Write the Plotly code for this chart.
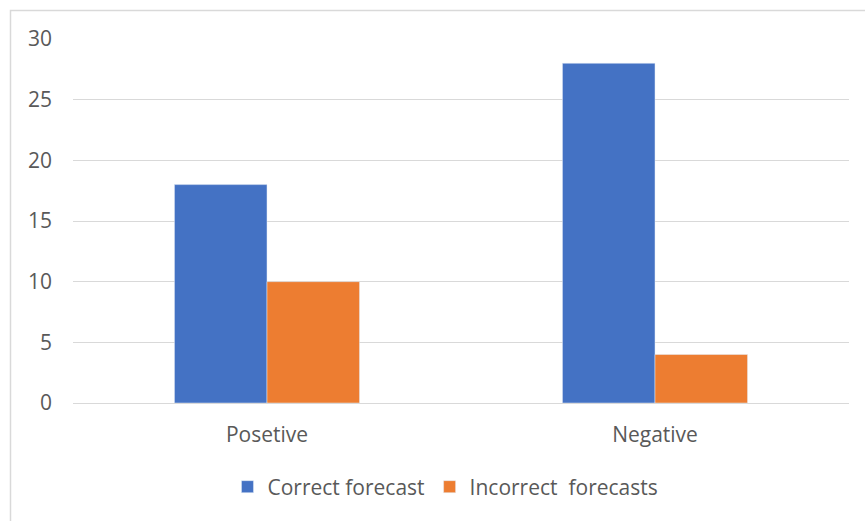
import plotly.graph_objects as go

categories = ["Posetive", "Negative"]
correct = [18, 28]
incorrect = [10, 4]
y_ticks = [0, 5, 10, 15, 20, 25, 30]

W, H = 865, 521
ml, mr, mt, mb = 73, 16, 39, 118
pw, ph = W - ml - mr, H - mt - mb

font = "Open Sans"
txt = "#595959"
fs = 21

fig = go.Figure()
fig.add_trace(go.Bar(name="Correct forecast", x=categories, y=correct, marker_color="#4472C4"))
fig.add_trace(go.Bar(name="Incorrect  forecasts", x=categories, y=incorrect, marker_color="#ED7D31"))

def px2x(p):
    return (p - ml) / pw
def py2y(p):
    return 1 - (p - mt) / ph

fig.add_shape(type="rect", xref="paper", yref="paper",
              x0=px2x(10.5), x1=px2x(870), y0=py2y(10.5), y1=py2y(530),
              line=dict(color="#D9D9D9", width=1.5), layer="below")

fig.update_layout(
    width=W, height=H,
    margin=dict(l=ml, r=mr, t=mt, b=mb, pad=0),
    paper_bgcolor="white", plot_bgcolor="white",
    barmode="group", bargap=0.523, bargroupgap=0,
    font=dict(family=font, size=fs, color=txt),
    legend=dict(orientation="h", x=0.48, xanchor="center", y=py2y(487), yanchor="middle",
                font=dict(size=fs, color=txt), itemwidth=30, traceorder="normal"),
    showlegend=True,
)
fig.update_yaxes(range=[0, 30], tickvals=y_ticks, showgrid=True, gridcolor="#D9D9D9", gridwidth=1,
                 zeroline=False, showline=False, ticks="", ticklabelstandoff=20,
                 tickfont=dict(size=fs, color=txt))
fig.update_xaxes(showline=True, linecolor="#D9D9D9", linewidth=1, ticks="", showgrid=False,
                 tickfont=dict(size=fs, color=txt), ticklabelstandoff=13)

fig.write_html("out.html", config={"displayModeBar": False},
               post_script="document.body.style.margin='0';document.body.style.overflow='hidden';")
